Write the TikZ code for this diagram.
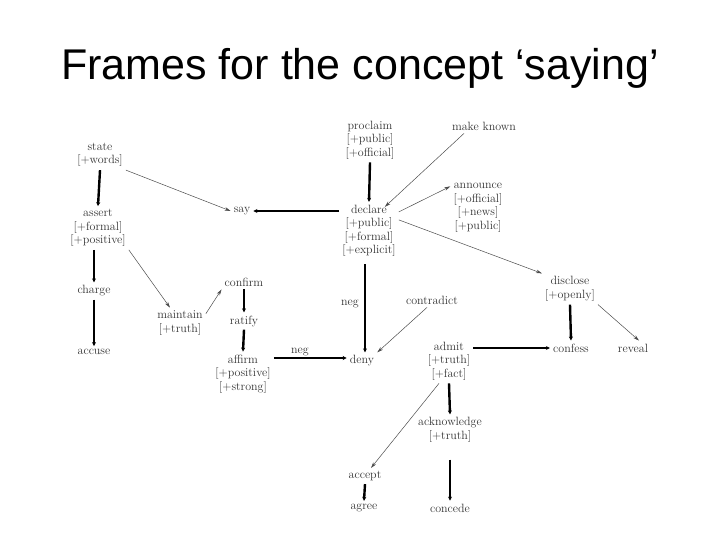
\documentclass[tikz,border=0pt]{standalone}
\usepackage{fontspec}
\newfontfamily\titlefont{Liberation Sans}
\usetikzlibrary{arrows.meta}
\begin{document}
\begin{tikzpicture}[x=1pt,y=-1pt,
  w/.style={font=\fontsize{12}{13.5}\selectfont,align=center,inner sep=3pt,text=black!80},
  thick arr/.style={line width=2.4pt,-{Stealth[length=4pt,width=4pt]}},
  thin arr/.style={line width=0.5pt,draw=black!70,-{Stealth[length=6pt,width=3.5pt]}},
  lab/.style={font=\fontsize{12}{13}\selectfont,text=black!80,inner sep=1pt}]
\useasboundingbox (0,0) rectangle (720,540);
\node[font=\titlefont\fontsize{43}{48}\selectfont] (title) at (360,68) {Frames for the concept ‘saying’};
\node[w] (state) at (100,155) {state\\{[}+words{]}};
\node[w] (assert) at (98,228) {assert\\{[}+formal{]}\\{[}+positive{]}};
\node[w] (charge) at (94,291) {charge};
\node[w] (accuse) at (94,352) {accuse};
\node[w] (say) at (242,211) {say};
\node[w] (proclaim) at (370,140) {proclaim\\{[}+public{]}\\{[}+official{]}};
\node[w] (mk) at (484,126) {make known};
\node[w] (declare) at (369,231) {declare\\{[}+public{]}\\{[}+formal{]}\\{[}+explicit{]}};
\node[w] (announce) at (478,208) {announce\\{[}+official{]}\\{[}+news{]}\\{[}+public{]}};
\node[w] (disclose) at (570,289) {disclose\\{[}+openly{]}};
\node[w] (confirm) at (244,282) {confirm};
\node[w] (ratify) at (244,321) {ratify};
\node[w] (maintain) at (180,323) {maintain\\{[}+truth{]}};
\node[w] (affirm) at (243,374) {affirm\\{[}+positive{]}\\{[}+strong{]}};
\node[w] (deny) at (362,361) {deny};
\node[w] (contradict) at (432,300) {contradict};
\node[w] (admit) at (449,361) {admit\\{[}+truth{]}\\{[}+fact{]}};
\node[w] (confess) at (571,348) {confess};
\node[w] (reveal) at (633,348) {reveal};
\node[w] (ack) at (450,430) {acknowledge\\{[}+truth{]}};
\node[w] (accept) at (365,476) {accept};
\node[w] (agree) at (364,508) {agree};
\node[w] (concede) at (450,508) {concede};
\node[lab] (neg1) at (350,304) {neg};
\node[lab] (neg2) at (300,352) {neg};
% thick
\draw[thick arr] (state.south) -- (assert.north);
\draw[thick arr] ([xshift=-4pt]assert.south) -- (charge.north);
\draw[thick arr] (charge.south) -- (accuse.north);
\draw[thick arr] (proclaim.south) -- (declare.north);
\draw[thick arr] (say.east -| declare.north west) -- (say.east);
\draw[thick arr] ([xshift=-4pt,yshift=-4pt]declare.south) -- ([xshift=3pt]deny.north);
\draw[thick arr] (confirm.south) -- (ratify.north);
\draw[thick arr] (ratify.south) -- (affirm.north);
\draw[thick arr] ([yshift=3pt]deny.west -| affirm.east) -- ([yshift=3pt]deny.west);
\draw[thick arr] (disclose.south) -- (confess.north);
\draw[thick arr] (confess.west -| admit.east) -- (confess.west);
\draw[thick arr] (admit.south) -- (ack.north);
\draw[thick arr] ([yshift=-14pt]ack.south) -- (concede.north);
\draw[thick arr] (accept.south) -- (agree.north);
% thin
\draw[thin arr] (state.south east) -- (say.west);
\draw[thin arr] (assert.south east) -- ([xshift=-10pt]maintain.north);
\draw[thin arr] ([yshift=-6pt]maintain.north east) -- (confirm.south west);
\draw[thin arr] ([xshift=-20pt]mk.south) -- ([xshift=-14pt,yshift=-5pt]declare.north east);
\draw[thin arr] ([yshift=-10pt]declare.north east) -- ([yshift=-6pt]announce.north west);
\draw[thin arr] ([yshift=-18pt]declare.north east) -- (disclose.north west);
\draw[thin arr] (disclose.south east) -- ([xshift=6pt]reveal.north);
\draw[thin arr] ([xshift=-5pt]contradict.south) -- (deny.north east);
\draw[thin arr] ([xshift=-10pt]admit.south) -- ([xshift=6pt]accept.north);
\end{tikzpicture}
\end{document}
